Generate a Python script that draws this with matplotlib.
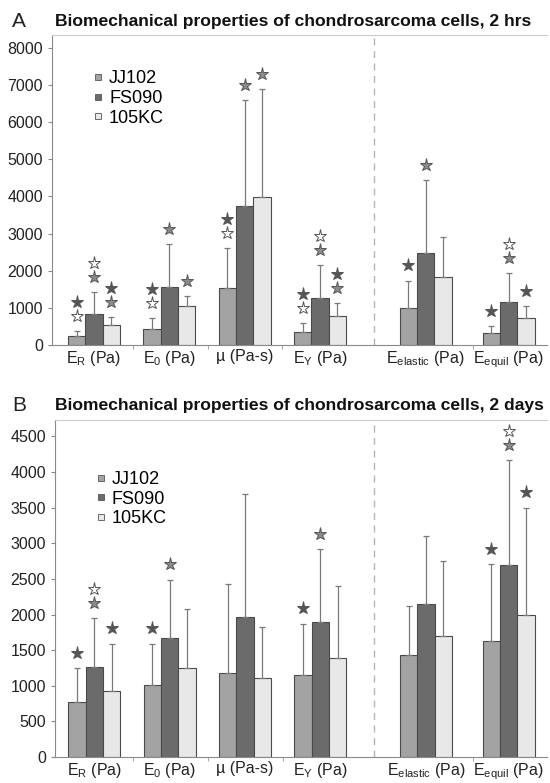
import numpy as np
import matplotlib
matplotlib.use('Agg')
import matplotlib.pyplot as plt
from matplotlib.lines import Line2D
from matplotlib.transforms import offset_copy

plt.rcParams['font.family'] = ['Liberation Sans', 'DejaVu Sans']
plt.rcParams['mathtext.fontset'] = 'custom'
plt.rcParams['mathtext.rm'] = 'Liberation Sans'

# ---- data ----
categories = [r'E$_\mathrm{R}$ (Pa)', r'E$_\mathrm{0}$ (Pa)', 'µ (Pa-s)',
              r'E$_\mathrm{Y}$ (Pa)', r'E$_\mathrm{elastic}$ (Pa)', r'E$_\mathrm{equil}$ (Pa)']
groups = ['JJ102', 'FS090', '105KC']

# panel A: 2 hrs
a_mean = {
    'JJ102': [243, 432, 1522, 342, 1009, 315],
    'FS090': [847, 1559, 3739, 1270, 2468, 1153],
    '105KC': [540, 1063, 3973, 793, 1820, 730],
}
a_sd = {
    'JJ102': [135, 288, 1091, 244, 721, 199],
    'FS090': [576, 1161, 2861, 874, 1964, 784],
    '105KC': [208, 261, 2927, 342, 1099, 324],
}
# significance stars, bottom to top: d = vs FS090, m = vs JJ102, w = vs 105KC
a_stars = {
    'JJ102': [['w', 'd'], ['w', 'd'], ['w', 'd'], ['w', 'd'], ['d'], ['d']],
    'FS090': [['m', 'w'], ['m'], ['m'], ['m', 'w'], ['m'], ['m', 'w']],
    '105KC': [['m', 'd'], ['m'], ['m'], ['m', 'd'], [], ['d']],
}

# panel B: 2 days
b_mean = {
    'JJ102': [778, 1012, 1181, 1157, 1425, 1635],
    'FS090': [1265, 1668, 1959, 1898, 2142, 2695],
    '105KC': [933, 1256, 1111, 1392, 1696, 1996],
}
b_sd = {
    'JJ102': [469, 581, 1251, 713, 688, 1074],
    'FS090': [685, 820, 1734, 1017, 965, 1476],
    '105KC': [660, 825, 712, 1003, 1055, 1504],
}
b_stars = {
    'JJ102': [['d'], ['d'], [], ['d'], [], ['d']],
    'FS090': [['m', 'w'], ['m'], [], ['m'], [], ['m', 'w']],
    '105KC': [['d'], [], [], [], [], ['d']],
}

BAR_COLORS = {'JJ102': '#a3a3a3', 'FS090': '#6b6b6b', '105KC': '#e8e8e8'}
STAR_COLORS = {'d': '#555555', 'm': '#8c8c8c', 'w': '#ffffff'}

pos = np.array([0, 1, 2, 3, 4.4, 5.5])
seps = [0.52, 1.51, 2.5, 5.03]
width = 0.23


def draw_panel(fig, ax, means, sds, stars, ymax, ystep, xleft, legend_y):
    for k, g in enumerate(groups):
        x = pos + (k - 1) * width
        m = np.array(means[g])
        s = np.array(sds[g])
        ax.bar(x, m, width, color=BAR_COLORS[g], edgecolor='#4a4a4a',
               linewidth=0.8, zorder=2)
        ax.errorbar(x, m, yerr=[np.zeros_like(s), s], fmt='none',
                    ecolor='#7a7a7a', elinewidth=0.9, capsize=2.2,
                    capthick=0.9, zorder=3)
        tops = m + s
        for i in range(len(x)):
            for j, c in enumerate(stars[g][i]):
                tr = offset_copy(ax.transData, fig=fig, x=0,
                                 y=11 + 10 * j, units='points')
                ax.plot(x[i], tops[i], marker='*', markersize=9.5,
                        color=STAR_COLORS[c], markeredgecolor='#555555',
                        markeredgewidth=0.7, transform=tr, zorder=4,
                        clip_on=False)

    ax.axvline(3.71, color='#b5b5b5', linestyle=(0, (5, 4)), linewidth=1.0,
               zorder=1)
    ax.set_xlim(xleft, 6.01)
    ax.set_ylim(0, ymax)
    ax.set_yticks(np.arange(0, ymax, ystep))
    ax.set_xticks(pos)
    ax.set_xticklabels(categories, fontsize=11.5, color='#222222')
    ax.set_xticks(seps, minor=True)
    ax.tick_params(axis='x', which='major', length=0, pad=3)
    ax.tick_params(axis='x', which='minor', length=3, color='#999999',
                   direction='out')
    ax.tick_params(axis='y', labelsize=11.5, labelcolor='#222222',
                   length=3, color='#888888')
    for sp in ['left', 'bottom', 'top']:
        ax.spines[sp].set_color('#8a8a8a')
    ax.spines['top'].set_color('#cccccc')
    ax.spines['right'].set_visible(False)

    handles = [Line2D([], [], marker='s', linestyle='none', markersize=5,
                      markerfacecolor=BAR_COLORS[g], markeredgecolor='#555555',
                      markeredgewidth=0.6, label=g) for g in groups]
    ax.legend(handles=handles, loc='upper left', bbox_to_anchor=(0.068, legend_y),
              frameon=False, fontsize=13, handlelength=0.6,
              handletextpad=0.3, labelspacing=0.15, borderaxespad=0)


fig = plt.figure(figsize=(5.5, 7.83), dpi=100)
ax_a = fig.add_axes([0.0945, 0.5594, 0.9, 0.3959])
ax_b = fig.add_axes([0.1, 0.0332, 0.895, 0.4304])

draw_panel(fig, ax_a, a_mean, a_sd, a_stars, 8350, 1000, -0.556, 0.91)
draw_panel(fig, ax_b, b_mean, b_sd, b_stars, 4730, 500, -0.52, 0.87)

fig.text(0.022, 0.973, 'A', fontsize=15, va='center', color='#222222')
fig.text(0.1, 0.973, 'Biomechanical properties of chondrosarcoma cells, 2 hrs',
         fontsize=12.6, fontweight='bold', va='center', color='#111111')
fig.text(0.022, 0.482, 'B', fontsize=15, va='center', color='#222222')
fig.text(0.1, 0.482, 'Biomechanical properties of chondrosarcoma cells, 2 days',
         fontsize=12.6, fontweight='bold', va='center', color='#111111')

fig.savefig('out.png', dpi=100)
